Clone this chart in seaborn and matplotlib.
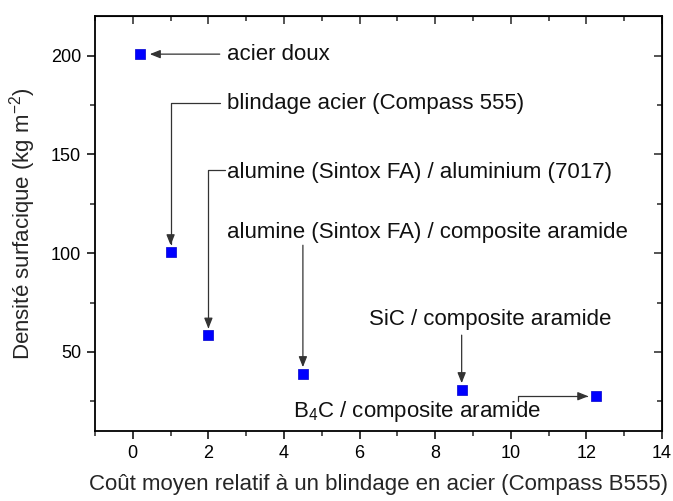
import matplotlib
matplotlib.use("Agg")
import matplotlib.pyplot as plt
from matplotlib.ticker import MultipleLocator
import numpy as np
import pandas as pd
import seaborn as sns

# ---- data ----
materials = [
    "acier doux",
    "blindage acier (Compass 555)",
    "alumine (Sintox FA) / aluminium (7017)",
    "alumine (Sintox FA) / composite aramide",
    "SiC / composite aramide",
    "B$_4$C / composite aramide",
]
cost = [0.2, 1.0, 2.0, 4.5, 8.7, 12.25]
density = [200.7, 100.8, 58.4, 38.8, 31.0, 27.6]

# annotation layout (text anchor, arrow start, arrow tip, connection)
label_x = [2.5, 2.5, 2.5, 2.5, 6.25, 4.25]
label_y = [200.5, 175.5, 141.0, 110.5, 66.5, 20.0]
arrow_start = [(2.3, 200.7), (2.32, 175.8), (2.45, 142.3), (4.5, 104.0), (8.7, 58.5), (10.2, 25.0)]
arrow_tip = [(0.45, 200.7), (1.0, 104.0), (2.0, 61.8), (4.5, 42.3), (8.7, 34.2), (12.05, 27.6)]
connections = ["arc3", "angle,angleA=0,angleB=90,rad=0", "angle,angleA=0,angleB=90,rad=0",
               "arc3", "arc3", "angle,angleA=90,angleB=0,rad=0"]

df = pd.DataFrame({"cost": cost, "density": density, "material": materials})

sns.set_style("ticks")
plt.rcParams["font.family"] = ["Liberation Sans", "DejaVu Sans"]
plt.rcParams["mathtext.default"] = "regular"

fig = plt.figure(figsize=(6.73, 5.01), dpi=100)
ax = fig.add_axes([95 / 673, 1 - 431 / 501, (662 - 95) / 673, (431 - 16) / 501])

sns.scatterplot(data=df, x="cost", y="density", marker="s", s=48,
                color="#0000ff", edgecolor="#0000cc", linewidth=0.5, ax=ax, zorder=3)

ax.set_xlim(-1, 14)
ax.set_ylim(10, 220)
ax.xaxis.set_major_locator(MultipleLocator(2))
ax.xaxis.set_minor_locator(MultipleLocator(1))
ax.yaxis.set_major_locator(MultipleLocator(50))
ax.yaxis.set_minor_locator(MultipleLocator(25))
ax.tick_params(which="major", direction="out", length=6, width=1.1, labelsize=13, colors="black", pad=4)
ax.tick_params(which="minor", direction="out", length=3.5, width=1.1)
for sp in ax.spines.values():
    sp.set_linewidth(1.3)
    sp.set_color("black")
    sp.set_visible(True)

secx = ax.secondary_xaxis("top")
secx.xaxis.set_major_locator(MultipleLocator(2))
secx.xaxis.set_minor_locator(MultipleLocator(1))
secx.tick_params(which="major", direction="in", length=6, width=1.1, labeltop=False)
secx.tick_params(which="minor", direction="in", length=3.5, width=1.1)
secy = ax.secondary_yaxis("right")
secy.yaxis.set_major_locator(MultipleLocator(50))
secy.yaxis.set_minor_locator(MultipleLocator(25))
secy.tick_params(which="major", direction="in", length=6, width=1.1, labelright=False)
secy.tick_params(which="minor", direction="in", length=3.5, width=1.1)

ax.set_xlabel("Coût moyen relatif à un blindage en acier (Compass B555)", fontsize=16, labelpad=9)
ax.set_ylabel("Densité surfacique (kg m$^{-2}$)", fontsize=16, labelpad=9)

for name, tx, ty, start, tip, conn in zip(materials, label_x, label_y, arrow_start, arrow_tip, connections):
    ax.text(tx, ty, name, fontsize=16, ha="left", va="center", color="#111111")
    ax.annotate("", xy=tip, xytext=start,
                arrowprops=dict(arrowstyle="-|>,head_length=0.45,head_width=0.18",
                                connectionstyle=conn, color="#333333", lw=0.9,
                                shrinkA=0, shrinkB=0, mutation_scale=14))

fig.savefig("out.png", dpi=100)
